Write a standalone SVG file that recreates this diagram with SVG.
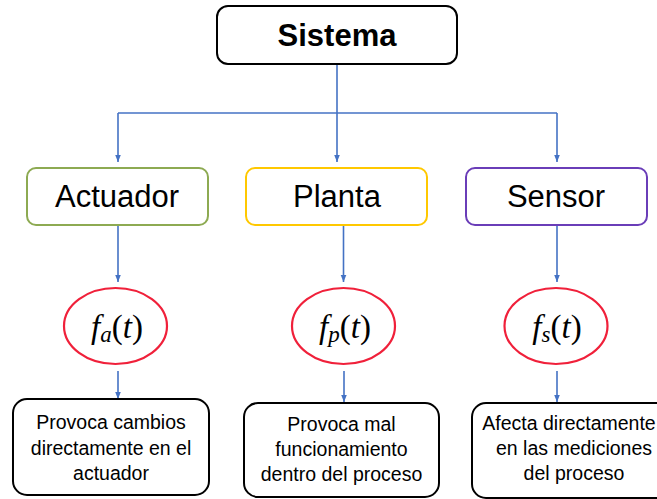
<svg xmlns="http://www.w3.org/2000/svg" width="657" height="499" viewBox="0 0 657 499">
  <defs>
    <marker id="arr" viewBox="0 0 10 10" refX="10" refY="5" markerWidth="7" markerHeight="7" markerUnits="userSpaceOnUse" orient="auto">
      <path d="M0,1 L10,5 L0,9 Z" fill="#4472C4"/>
    </marker>
  </defs>
  <style>
    .box { fill: #ffffff; stroke: #000000; stroke-width: 2; }
    .mid { fill: #ffffff; stroke-width: 2; }
    .ell { fill: #ffffff; stroke: #F0203A; stroke-width: 2.2; }
    .conn { fill: none; stroke: #4472C4; stroke-width: 1.6; }
    .title { font-family: "Liberation Sans", Arial, sans-serif; font-weight: bold; font-size: 31px; fill: #000; text-anchor: middle; }
    .lbl { font-family: "Liberation Sans", Arial, sans-serif; font-size: 31px; fill: #000; text-anchor: middle; }
    .desc { font-family: "Liberation Sans", Arial, sans-serif; font-size: 19.5px; fill: #000; text-anchor: middle; }
    .math { font-family: "Liberation Serif", "DejaVu Serif", serif; font-size: 33px; fill: #000; text-anchor: middle; }
    .it { font-style: italic; }
  </style>
  <rect width="657" height="499" fill="#ffffff"/>

  <g id="connectors">
    <path class="conn" d="M337,64 V113"/>
    <path class="conn" d="M118,113 H557"/>
    <path class="conn" d="M118,113 V162" marker-end="url(#arr)"/>
    <path class="conn" d="M337,113 V162" marker-end="url(#arr)"/>
    <path class="conn" d="M557,113 V162" marker-end="url(#arr)"/>
    <path class="conn" d="M118,225 V282" marker-end="url(#arr)"/>
    <path class="conn" d="M343.5,225 V282" marker-end="url(#arr)"/>
    <path class="conn" d="M557,225 V282" marker-end="url(#arr)"/>
    <path class="conn" d="M118,371 V399" marker-end="url(#arr)"/>
    <path class="conn" d="M344,371 V402" marker-end="url(#arr)"/>
    <path class="conn" d="M557,371 V402" marker-end="url(#arr)"/>
  </g>

  <g id="sistema">
    <rect class="box" x="217" y="6" width="240" height="58" rx="11"/>
    <text class="title" x="337" y="46">Sistema</text>
  </g>

  <g id="actuador">
    <rect class="mid" stroke="#8DAA52" x="27" y="168" width="181" height="57" rx="9"/>
    <text class="lbl" x="117" y="207">Actuador</text>
  </g>
  <g id="planta">
    <rect class="mid" stroke="#FFC800" x="246" y="168" width="181" height="57" rx="9"/>
    <text class="lbl" x="337" y="207">Planta</text>
  </g>
  <g id="sensor">
    <rect class="mid" stroke="#6A3DB8" x="466" y="168" width="181" height="57" rx="9"/>
    <text class="lbl" x="556" y="207">Sensor</text>
  </g>

  <g id="fa">
    <ellipse class="ell" cx="115.5" cy="326" rx="51.5" ry="38"/>
    <text class="math" x="117" y="338"><tspan class="it">f</tspan><tspan class="it" font-size="23px" dy="4">a</tspan><tspan dy="-4">(</tspan><tspan class="it">t</tspan>)</text>
  </g>
  <g id="fp">
    <ellipse class="ell" cx="343.5" cy="326" rx="51.5" ry="38"/>
    <text class="math" x="345" y="338"><tspan class="it">f</tspan><tspan class="it" font-size="23px" dy="4">p</tspan><tspan dy="-4">(</tspan><tspan class="it">t</tspan>)</text>
  </g>
  <g id="fs">
    <ellipse class="ell" cx="556" cy="326" rx="51.5" ry="38"/>
    <text class="math" x="557" y="338"><tspan class="it">f</tspan><tspan class="it" font-size="23px" dy="4">s</tspan><tspan dy="-4">(</tspan><tspan class="it">t</tspan>)</text>
  </g>

  <g id="desc-actuador">
    <rect class="box" x="13" y="399" width="196" height="96" rx="14"/>
    <text class="desc" x="111" y="429">Provoca cambios</text>
    <text class="desc" x="111" y="455">directamente en el</text>
    <text class="desc" x="111" y="480">actuador</text>
  </g>
  <g id="desc-planta">
    <rect class="box" x="244" y="403" width="195" height="94" rx="14"/>
    <text class="desc" x="341.5" y="431">Provoca mal</text>
    <text class="desc" x="341.5" y="456">funcionamiento</text>
    <text class="desc" x="341.5" y="481">dentro del proceso</text>
  </g>
  <g id="desc-sensor">
    <rect class="box" x="472" y="403" width="206" height="95" rx="14"/>
    <text class="desc" x="569" y="430">Afecta directamente</text>
    <text class="desc" x="574" y="455">en las mediciones</text>
    <text class="desc" x="574" y="480">del proceso</text>
  </g>
</svg>
